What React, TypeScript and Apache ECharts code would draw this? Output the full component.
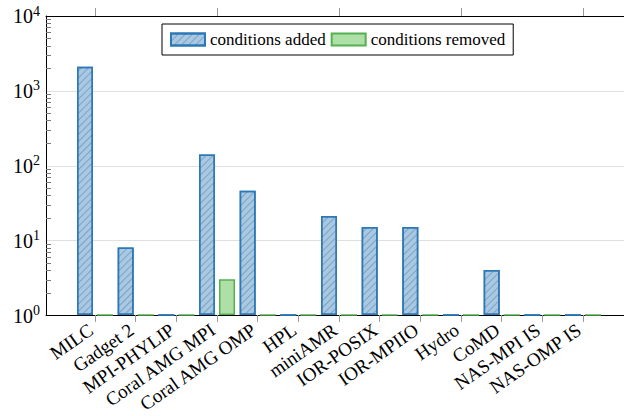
import React, { useEffect, useRef } from "react";
import * as echarts from "echarts";

const categories = [
  "MILC",
  "Gadget 2",
  "MPI-PHYLIP",
  "Coral AMG MPI",
  "Coral AMG OMP",
  "HPL",
  "miniAMR",
  "IOR-POSIX",
  "IOR-MPIIO",
  "Hydro",
  "CoMD",
  "NAS-MPI IS",
  "NAS-OMP IS",
];
// values at 10^0 (=1) sit on the baseline (no bar)
const conditionsAdded = [2100, 8, 1, 140, 46, 1, 21, 15, 15, 1, 4, 1, 1];
const conditionsRemoved = [1, 1, 1, 3, 1, 1, 1, 1, 1, 1, 1, 1, 1];
const decades = [0, 1, 2, 3];
const minorMultipliers = [2, 3, 4, 5, 6, 7, 8, 9];

const FONT = "'Liberation Serif', 'Times New Roman', serif";

export default function App() {
  const ref = useRef<HTMLDivElement>(null);
  useEffect(() => {
    if (!ref.current) return;
    const chart = echarts.init(ref.current, undefined, { renderer: "svg" });
    const minorTicks: number[] = [];
    decades.forEach((d) =>
      minorMultipliers.forEach((m) => minorTicks.push(Math.log10(m * Math.pow(10, d))))
    );
    const hiddenX = {
      type: "value",
      min: 0,
      max: 1,
      axisLine: { show: true, lineStyle: { color: "#000", width: 1 } },
      axisTick: { show: false },
      axisLabel: { show: false },
      splitLine: { show: false },
    };
    const option: any = {
      animation: false,
      backgroundColor: "#fff",
      grid: [
        { left: 46, top: 16, right: -20, bottom: 100.5 },
        { left: 74.67, top: 16, right: 20.67, bottom: 100.5 },
      ],
      legend: {
        data: ["conditions added", "conditions removed"],
        left: 162,
        top: 24,
        icon: "rect",
        itemWidth: 34,
        itemHeight: 12,
        itemGap: 5,
        borderColor: "#000",
        borderWidth: 1,
        borderRadius: 0,
        padding: [7, 8],
        backgroundColor: "#fff",
        textStyle: { fontFamily: FONT, fontSize: 17, color: "#000" },
      },
      xAxis: [
        { ...hiddenX, gridIndex: 0, position: "bottom" },
        { ...hiddenX, gridIndex: 0, position: "top" },
        {
          gridIndex: 1,
          type: "category",
          data: categories,
          position: "bottom",
          axisLine: { show: false },
          axisTick: { show: true, alignWithLabel: true, length: 7, lineStyle: { color: "#999" } },
          axisLabel: {
            rotate: 35,
            interval: 0,
            margin: 10,
            padding: [0, 5, 0, 0],
            fontFamily: FONT,
            fontSize: 19,
            color: "#000",
          },
          splitLine: { show: false },
        },
        {
          gridIndex: 1,
          type: "category",
          data: categories,
          position: "top",
          axisLine: { show: false },
          axisTick: { show: true, alignWithLabel: true, length: 8, lineStyle: { color: "#999" } },
          axisLabel: { show: false },
          splitLine: { show: false },
        },
      ],
      yAxis: [
        {
          gridIndex: 0,
          type: "log",
          logBase: 10,
          min: 1,
          max: 10000,
          position: "left",
          axisLine: { show: true, lineStyle: { color: "#000", width: 1 } },
          axisTick: { show: false },
          splitLine: { show: true, lineStyle: { color: "#e0e0e0", width: 1 } },
          axisLabel: {
            margin: 6,
            formatter: (v: number) => `{b|10}{s|${Math.round(Math.log10(v))}}`,
            rich: {
              b: { fontFamily: FONT, fontSize: 20, color: "#000" },
              s: { fontFamily: FONT, fontSize: 14, color: "#000", padding: [0, 0, 10, 0] },
            },
          },
        },
        {
          gridIndex: 0,
          type: "value",
          min: 0,
          max: 4,
          position: "left",
          axisLine: { show: false },
          axisLabel: { show: false },
          splitLine: { show: false },
          axisTick: {
            show: true,
            inside: true,
            length: 5,
            customValues: minorTicks,
            lineStyle: { color: "#777" },
          },
        },
        {
          gridIndex: 1,
          type: "log",
          logBase: 10,
          min: 1,
          max: 10000,
          show: false,
        },
      ],
      series: [
        {
          type: "bar",
          name: "conditions added",
          xAxisIndex: 2,
          yAxisIndex: 2,
          data: conditionsAdded,
          barWidth: 16,
          barGap: "25%",
          itemStyle: {
            color: "#a9c8e2",
            borderColor: "#2d78b6",
            borderWidth: 1.5,
            decal: {
              symbol: "rect",
              symbolSize: 1,
              color: "rgba(40,90,140,0.35)",
              dashArrayX: [1, 0],
              dashArrayY: [1, 4],
              rotation: -Math.PI / 4,
            },
          },
        },
        {
          type: "bar",
          name: "conditions removed",
          xAxisIndex: 2,
          yAxisIndex: 2,
          data: conditionsRemoved,
          barWidth: 16,
          barGap: "25%",
          itemStyle: {
            color: "#addfa6",
            borderColor: "#55b14f",
            borderWidth: 1.5,
          },
        },
      ],
    };
    chart.setOption(option);
    return () => chart.dispose();
  }, []);
  return (
    <div
      ref={ref}
      style={{ position: "fixed", left: 0, top: 0, width: 624, height: 416 }}
    />
  );
}
